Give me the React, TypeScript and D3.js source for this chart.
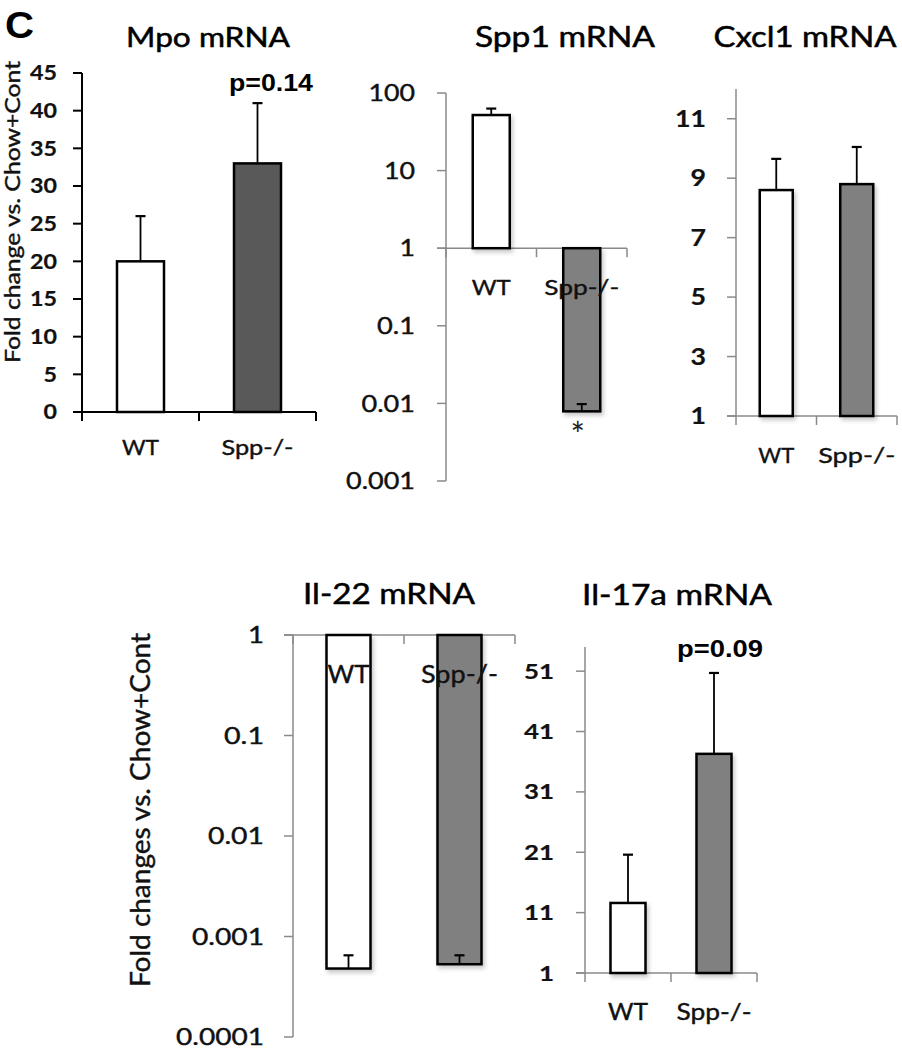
import React from "react";
import * as d3 from "d3";

// ---------------- data ----------------
const categories = ["WT", "Spp-/-"];

const mpoMeans = [20, 33];
const mpoErrors = [6, 8];
const mpoTicks = [0, 5, 10, 15, 20, 25, 30, 35, 40, 45];

const spp1Means = [52, 0.0079];
const spp1ErrorEnds = [63, 0.0098];
const spp1Ticks = [100, 10, 1, 0.1, 0.01, 0.001];

const cxcl1Means = [8.6, 8.8];
const cxcl1Errors = [1.05, 1.25];
const cxcl1Ticks = [1, 3, 5, 7, 9, 11];

const il22Means = [0.00048, 0.00053];
const il22ErrorEnds = [0.00065, 0.00065];
const il22Ticks = [1, 0.1, 0.01, 0.001, 0.0001];

const il17aMeans = [12.6, 37.3];
const il17aErrors = [8.0, 13.4];
const il17aTicks = [1, 11, 21, 31, 41, 51];

const FONT = "Lato, 'Open Sans', 'DejaVu Sans', sans-serif";
const ARIAL = "'Liberation Sans', Arial, sans-serif";

function numWidth(s: string, dw: number, pw: number) {
  let w = 0;
  for (const ch of s) w += ch === "." ? pw : dw;
  return w;
}

type PanelProps = {
  title: string;
  titleX: number;
  titleY: number;
  titleLen: number;
  titleSize: number;
  y: any;
  ticks: number[];
  tickLabelX: number;
  tickSize: number;
  tickBold: boolean;
  digitW: number;
  dotW: number;
  axisX: number;
  xEnd: number;
  base: number;
  axisColor: string;
  axisWidth: number;
  means: number[];
  errEnds: number[];
  barW: number;
  fills: string[];
  shadow: boolean;
  xLabelY: number;
  xLabelSize: number;
  xLabelLens: number[];
};

function Panel(p: PanelProps) {
  const tickLen = 9;
  const x = d3.scaleBand<string>().domain(categories).range([p.axisX, p.xEnd]);
  const [yBottom, yTop] = p.y.range();
  const y0 = p.y(p.base);
  const bounds = [p.axisX, ...categories.map((c) => (x(c) as number) + x.bandwidth())];
  return (
    <g>
      <text
        x={p.titleX}
        y={p.titleY}
        textAnchor="middle"
        fontFamily={FONT}
        fontSize={p.titleSize}
        textLength={p.titleLen}
        lengthAdjust="spacingAndGlyphs"
        fill="#000"
        stroke="#000"
        strokeWidth={0.5}
      >
        {p.title}
      </text>
      {/* y axis */}
      <line x1={p.axisX} x2={p.axisX} y1={yBottom} y2={yTop} stroke={p.axisColor} strokeWidth={p.axisWidth} />
      {p.ticks.map((t) => {
        const s = String(t);
        return (
          <g key={"t" + t}>
            <line
              x1={p.axisX - tickLen}
              x2={p.axisX}
              y1={p.y(t)}
              y2={p.y(t)}
              stroke={p.axisColor}
              strokeWidth={p.axisWidth}
            />
            <text
              x={p.tickLabelX}
              y={p.y(t)}
              dy="0.36em"
              textAnchor="end"
              fontFamily={FONT}
              fontSize={p.tickSize}
              fontWeight={p.tickBold ? 700 : 400}
              textLength={numWidth(s, p.digitW, p.dotW)}
              lengthAdjust="spacingAndGlyphs"
              fill="#111"
              stroke="#111"
              strokeWidth={p.tickBold ? 0.2 : 0.4}
            >
              {s}
            </text>
          </g>
        );
      })}
      {/* x axis */}
      <line x1={p.axisX - tickLen} x2={p.xEnd} y1={y0} y2={y0} stroke={p.axisColor} strokeWidth={p.axisWidth} />
      {bounds.map((bx, i) => (
        <line key={"b" + i} x1={bx} x2={bx} y1={y0} y2={y0 + tickLen} stroke={p.axisColor} strokeWidth={p.axisWidth} />
      ))}
      {/* bars */}
      {categories.map((c, i) => {
        const cx = (x(c) as number) + x.bandwidth() / 2;
        const yv = p.y(p.means[i]);
        return (
          <rect
            key={"r" + c}
            x={cx - p.barW / 2}
            y={Math.min(yv, y0)}
            width={p.barW}
            height={Math.abs(yv - y0)}
            fill={p.fills[i]}
            stroke="#000"
            strokeWidth={2.5}
            filter={p.shadow ? "url(#barShadow)" : undefined}
          />
        );
      })}
      {/* error bars */}
      {categories.map((c, i) => {
        const cx = (x(c) as number) + x.bandwidth() / 2;
        const yv = p.y(p.means[i]);
        const ye = p.y(p.errEnds[i]);
        return (
          <g key={"e" + c} stroke="#000" strokeWidth={1.8}>
            <line x1={cx} x2={cx} y1={yv} y2={ye} />
            <line x1={cx - 5} x2={cx + 5} y1={ye} y2={ye} strokeWidth={2.2} />
          </g>
        );
      })}
      {/* category labels */}
      {categories.map((c, i) => (
        <text
          key={"l" + c}
          x={(x(c) as number) + x.bandwidth() / 2}
          y={p.xLabelY}
          textAnchor="middle"
          fontFamily={FONT}
          fontSize={p.xLabelSize}
          textLength={p.xLabelLens[i]}
          lengthAdjust="spacingAndGlyphs"
          fill="#111"
          stroke="#111"
          strokeWidth={0.4}
        >
          {c}
        </text>
      ))}
    </g>
  );
}

export default function App() {
  const mpoY = d3.scaleLinear().domain([0, 45]).range([412, 73]);
  const spp1Y = d3.scaleLog().domain([0.001, 100]).range([481, 93]);
  const cxcl1Y = d3.scaleLinear().domain([1, 12]).range([416, 89]);
  const il22Y = d3.scaleLog().domain([0.0001, 1]).range([1037, 635]);
  const il17aY = d3.scaleLinear().domain([1, 55]).range([973, 647]);

  const spp1X = d3.scaleBand<string>().domain(categories).range([446, 627]);

  return (
    <svg
      width={902}
      height={1050}
      style={{ position: "absolute", left: 0, top: 0, background: "#fff" }}
    >
      <defs>
        <filter id="barShadow" x="-20%" y="-20%" width="150%" height="150%">
          <feDropShadow dx="2" dy="3" stdDeviation="2" floodColor="#000" floodOpacity="0.22" />
        </filter>
      </defs>
      <rect width={902} height={1050} fill="#fff" />

      <text
        x={5}
        y={38}
        fontFamily={ARIAL}
        fontWeight={700}
        fontSize={36}
        textLength={29}
        lengthAdjust="spacingAndGlyphs"
        fill="#000"
      >
        C
      </text>

      {/* Mpo */}
      <text
        transform="translate(20,212) rotate(-90)"
        textAnchor="middle"
        fontFamily={FONT}
        fontSize={21}
        textLength={302}
        lengthAdjust="spacingAndGlyphs"
        fill="#111"
        stroke="#111"
        strokeWidth={0.4}
      >
        Fold change vs. Chow+Cont
      </text>
      <Panel
        title="Mpo mRNA"
        titleX={208}
        titleY={47}
        titleLen={164}
        titleSize={27}
        y={mpoY}
        ticks={mpoTicks}
        tickLabelX={57}
        tickSize={20}
        tickBold={true}
        digitW={13.5}
        dotW={6}
        axisX={82}
        xEnd={316}
        base={0}
        axisColor="#000"
        axisWidth={2}
        means={mpoMeans}
        errEnds={mpoMeans.map((m, i) => m + mpoErrors[i])}
        barW={47}
        fills={["#ffffff", "#595959"]}
        shadow={false}
        xLabelY={455}
        xLabelSize={21}
        xLabelLens={[37, 72]}
      />
      <text
        x={271}
        y={91}
        textAnchor="middle"
        fontFamily={ARIAL}
        fontWeight={700}
        fontSize={24}
        textLength={84}
        lengthAdjust="spacingAndGlyphs"
        fill="#000"
      >
        p=0.14
      </text>

      {/* Spp1 */}
      <Panel
        title="Spp1 mRNA"
        titleX={565}
        titleY={47}
        titleLen={180}
        titleSize={28}
        y={spp1Y}
        ticks={spp1Ticks}
        tickLabelX={415}
        tickSize={23}
        tickBold={false}
        digitW={15.5}
        dotW={7}
        axisX={446}
        xEnd={627}
        base={1}
        axisColor="#8a8a8a"
        axisWidth={1.5}
        means={spp1Means}
        errEnds={spp1ErrorEnds}
        barW={37}
        fills={["#ffffff", "#808080"]}
        shadow={true}
        xLabelY={295}
        xLabelSize={22}
        xLabelLens={[39, 75]}
      />
      <text
        x={(spp1X("Spp-/-") as number) + spp1X.bandwidth() / 2 - 4}
        y={447}
        textAnchor="middle"
        fontFamily={FONT}
        fontSize={34}
        fill="#222"
      >
        *
      </text>

      {/* Cxcl1 */}
      <Panel
        title="Cxcl1 mRNA"
        titleX={805}
        titleY={47}
        titleLen={183}
        titleSize={28}
        y={cxcl1Y}
        ticks={cxcl1Ticks}
        tickLabelX={706}
        tickSize={23}
        tickBold={true}
        digitW={15.5}
        dotW={7}
        axisX={736}
        xEnd={897}
        base={1}
        axisColor="#8a8a8a"
        axisWidth={1.5}
        means={cxcl1Means}
        errEnds={cxcl1Means.map((m, i) => m + cxcl1Errors[i])}
        barW={33}
        fills={["#ffffff", "#808080"]}
        shadow={true}
        xLabelY={463}
        xLabelSize={22}
        xLabelLens={[36, 77]}
      />

      {/* Il-22 */}
      <text
        transform="translate(150,810) rotate(-90)"
        textAnchor="middle"
        fontFamily={FONT}
        fontSize={26}
        textLength={354}
        lengthAdjust="spacingAndGlyphs"
        fill="#111"
        stroke="#111"
        strokeWidth={0.4}
      >
        Fold changes vs. Chow+Cont
      </text>
      <Panel
        title="Il-22 mRNA"
        titleX={389}
        titleY={604}
        titleLen={172}
        titleSize={29}
        y={il22Y}
        ticks={il22Ticks}
        tickLabelX={264}
        tickSize={23}
        tickBold={false}
        digitW={16}
        dotW={8}
        axisX={293}
        xEnd={515}
        base={1}
        axisColor="#8a8a8a"
        axisWidth={1.5}
        means={il22Means}
        errEnds={il22ErrorEnds}
        barW={44}
        fills={["#ffffff", "#808080"]}
        shadow={true}
        xLabelY={683}
        xLabelSize={25}
        xLabelLens={[42, 77]}
      />

      {/* Il-17a */}
      <Panel
        title="Il-17a mRNA"
        titleX={677}
        titleY={605}
        titleLen={190}
        titleSize={29}
        y={il17aY}
        ticks={il17aTicks}
        tickLabelX={554}
        tickSize={21}
        tickBold={true}
        digitW={15}
        dotW={7}
        axisX={585}
        xEnd={757}
        base={1}
        axisColor="#8a8a8a"
        axisWidth={1.5}
        means={il17aMeans}
        errEnds={il17aMeans.map((m, i) => m + il17aErrors[i])}
        barW={35}
        fills={["#ffffff", "#808080"]}
        shadow={true}
        xLabelY={1020}
        xLabelSize={23}
        xLabelLens={[40, 75]}
      />
      <text
        x={720}
        y={657}
        textAnchor="middle"
        fontFamily={ARIAL}
        fontWeight={700}
        fontSize={24}
        textLength={86}
        lengthAdjust="spacingAndGlyphs"
        fill="#000"
      >
        p=0.09
      </text>
    </svg>
  );
}
